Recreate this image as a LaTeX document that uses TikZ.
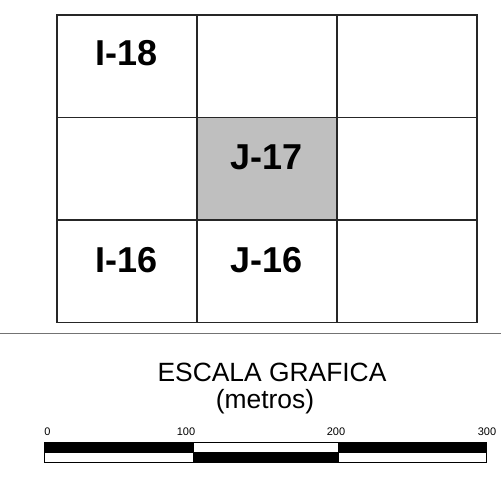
\documentclass[tikz,border=0pt]{standalone}
\usepackage{fontspec}
\setmainfont{Liberation Sans}
\begin{document}
\begin{tikzpicture}[x=1pt,y=-1pt,
  cell/.style={draw=black!85,line width=1.6pt,minimum width=140pt,minimum height=102.5pt,inner sep=0pt,anchor=north west},
  shaded/.style={cell,fill=black!25},
  lab/.style={font=\fontsize{36}{36}\selectfont\bfseries,inner sep=0pt},
  tick/.style={font=\fontsize{11}{11}\selectfont,inner sep=0pt,anchor=base},
  title/.style={font=\fontsize{26.4}{26.4}\selectfont,inner sep=0pt,anchor=base},
  barline/.style={draw=black,line width=1pt}]
\useasboundingbox (0,0) rectangle (501,477);
\fill[white] (0,0) rectangle (501,477);
% grid cells
\node[cell] (a1) at (56,14) {};
\node[cell] (a2) at (196,14) {};
\node[cell] (a3) at (336,14) {};
\node[cell] (b1) at (56,116.5) {};
\node[shaded] (b2) at (196,116.5) {};
\node[cell] (b3) at (336,116.5) {};
\node[cell] (c1) at (56,219) {};
\node[cell] (c2) at (196,219) {};
\node[cell] (c3) at (336,219) {};
% labels
\node[lab] (l1) at ([yshift=13pt]a1.center) {I-18};
\node[lab] (l2) at ([yshift=11pt]b2.center) {J-17};
\node[lab] (l3) at ([yshift=11pt]c1.center) {I-16};
\node[lab] (l4) at ([yshift=11pt]c2.center) {J-16};
% separator
\draw[black!55,line width=1.2pt] (0,333.5) -- (501,333.5);
% scale title
\node[title] (t1) at (272,381.5) {ESCALA GRAFICA};
\node[title] (t2) at (265,408) {(metros)};
% scale ticks
\node[tick] (n0) at (47.5,435) {0};
\node[tick] (n1) at (186,435) {100};
\node[tick] (n2) at (336,435) {200};
\node[tick] (n3) at (487,435) {300};
% scale bar
\filldraw[barline,fill=black] (44,442.3) rectangle (193,452);
\filldraw[barline,fill=white] (193,442.3) rectangle (338,452);
\filldraw[barline,fill=black] (338,442.3) rectangle (486,452);
\filldraw[barline,fill=white] (44,452) rectangle (193,462);
\filldraw[barline,fill=black] (193,452) rectangle (338,462);
\filldraw[barline,fill=white] (338,452) rectangle (486,462);
\end{tikzpicture}
\end{document}
